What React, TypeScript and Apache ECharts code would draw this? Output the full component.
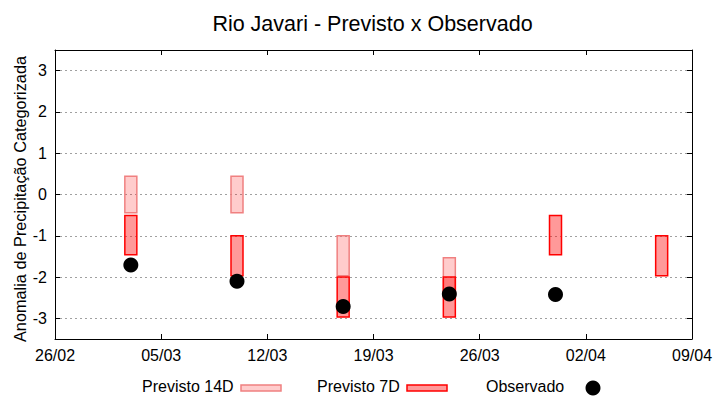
import React, { useEffect, useRef } from "react";
import * as echarts from "echarts";

// ---- data ----
const startDate = "2025-02-26";
const endDate = "2025-04-09";
const dates = ["2025-03-03", "2025-03-10", "2025-03-17", "2025-03-24", "2025-03-31", "2025-04-07"];
const prev14Low: (number | null)[] = [-0.44, -0.44, -1.97, -2.47, null, null];
const prev14High: (number | null)[] = [0.44, 0.44, -1.0, -1.53, null, null];
const prev7Low: (number | null)[] = [-1.46, -1.97, -2.97, -2.97, -1.46, -1.97];
const prev7High: (number | null)[] = [-0.51, -1.0, -2.0, -2.0, -0.51, -1.0];
const observed: (number | null)[] = [-1.71, -2.1, -2.71, -2.41, -2.42, null];
const seriesNames = ["Previsto 14D", "Previsto 7D", "Observado"];
const titleText = "Rio Javari - Previsto x Observado";
const yAxisTitle = "Anomalia de Precipitação Categorizada";

const DAY = 86400000;
const base = Date.parse(startDate + "T00:00:00Z");
const dayOffset = (d: string) => (Date.parse(d + "T00:00:00Z") - base) / DAY;
const xMax = dayOffset(endDate);

const fmtDate = (v: number) => {
  const d = new Date(base + Math.round(v) * DAY);
  const dd = String(d.getUTCDate()).padStart(2, "0");
  const mm = String(d.getUTCMonth() + 1).padStart(2, "0");
  return `${dd}/${mm}`;
};

const boxData = (lows: (number | null)[], highs: (number | null)[]) =>
  dates
    .map((d, i) => [dayOffset(d), lows[i], highs[i]])
    .filter((r) => r[1] != null && r[2] != null);

const FONT = "Liberation Sans";

export default function App() {
  const ref = useRef<HTMLDivElement>(null);
  useEffect(() => {
    if (!ref.current) return;
    const chart = echarts.init(ref.current, undefined, { renderer: "svg" });

    const makeRender = (fill: string, stroke: string) => (params: any, api: any) => {
      const x = api.value(0);
      const lo = api.value(1);
      const hi = api.value(2);
      const pHi = api.coord([x, hi]);
      const pLo = api.coord([x, lo]);
      const w = 12;
      return {
        type: "rect",
        shape: { x: pHi[0] - w / 2, y: pHi[1], width: w, height: pLo[1] - pHi[1] },
        style: { fill, stroke, lineWidth: 1.5 },
      };
    };

    const axisCommon = {
      axisLine: { show: true, onZero: false, lineStyle: { color: "#000", width: 1 } },
      axisTick: { show: true, inside: true, length: 5, lineStyle: { color: "#000" } },
    };

    chart.setOption({
      animation: false,
      textStyle: { fontFamily: FONT },
      title: {
        text: titleText,
        left: 367.5,
        top: 8,
        textAlign: "center",
        textStyle: { fontFamily: FONT, fontSize: 21.5, fontWeight: "normal", color: "#000" },
      },
      grid: { left: 55, right: 28, top: 50, bottom: 61, containLabel: false },
      xAxis: [
        {
          type: "value",
          min: 0,
          max: xMax,
          interval: 7,
          position: "bottom",
          ...axisCommon,
          axisLabel: { formatter: fmtDate, fontSize: 16, color: "#000", margin: 8, fontFamily: FONT },
          splitLine: { show: false },
        },
        {
          type: "value",
          min: 0,
          max: xMax,
          interval: 7,
          position: "top",
          ...axisCommon,
          axisLabel: { show: false },
          splitLine: { show: false },
        },
      ],
      yAxis: [
        {
          type: "value",
          min: -3.5,
          max: 3.5,
          splitNumber: 7,
          position: "left",
          ...axisCommon,
          axisLabel: {
            fontSize: 16,
            color: "#000",
            margin: 8,
            fontFamily: FONT,
            showMinLabel: false,
            showMaxLabel: false,
          },
          splitLine: {
            show: true,
            showMinLine: false,
            showMaxLine: false,
            lineStyle: { color: "#a0a0a0", type: [2, 3], width: 1 },
          },
        },
        {
          type: "value",
          min: -3.5,
          max: 3.5,
          splitNumber: 7,
          position: "right",
          ...axisCommon,
          axisLabel: { show: false },
          splitLine: { show: false },
        },
      ],
      series: [
        {
          name: seriesNames[0],
          type: "custom",
          xAxisIndex: 0,
          yAxisIndex: 0,
          renderItem: makeRender("rgba(255,0,0,0.2)", "#f08080"),
          encode: { x: 0, y: [1, 2] },
          data: boxData(prev14Low, prev14High),
          z: 2,
        },
        {
          name: seriesNames[1],
          type: "custom",
          xAxisIndex: 0,
          yAxisIndex: 0,
          renderItem: makeRender("rgba(255,0,0,0.4)", "#ff0000"),
          encode: { x: 0, y: [1, 2] },
          data: boxData(prev7Low, prev7High),
          z: 3,
        },
        {
          name: seriesNames[2],
          type: "scatter",
          xAxisIndex: 0,
          yAxisIndex: 0,
          symbol: "circle",
          symbolSize: 15,
          itemStyle: { color: "#000", opacity: 1 },
          data: dates
            .map((d, i) => [dayOffset(d), observed[i]])
            .filter((r) => r[1] != null),
          z: 4,
        },
      ],
      graphic: [
        {
          type: "text",
          x: 20,
          y: 199,
          rotation: Math.PI / 2,
          style: {
            text: yAxisTitle,
            fontSize: 16.3,
            fontFamily: FONT,
            fill: "#000",
            align: "center",
            verticalAlign: "middle",
          },
        },
        {
          type: "text",
          left: 142,
          top: 378,
          style: { text: seriesNames[0], fontSize: 16, fontFamily: FONT, fill: "#000" },
        },
        {
          type: "rect",
          shape: { x: 241, y: 385, width: 40, height: 6 },
          style: { fill: "rgba(255,0,0,0.2)", stroke: "#f08080", lineWidth: 1.5 },
        },
        {
          type: "text",
          left: 317,
          top: 378,
          style: { text: seriesNames[1], fontSize: 16, fontFamily: FONT, fill: "#000" },
        },
        {
          type: "rect",
          shape: { x: 407, y: 385, width: 40, height: 6 },
          style: { fill: "rgba(255,0,0,0.4)", stroke: "#ff0000", lineWidth: 1.5 },
        },
        {
          type: "text",
          left: 486,
          top: 378,
          style: { text: seriesNames[2], fontSize: 16, fontFamily: FONT, fill: "#000" },
        },
        {
          type: "circle",
          shape: { cx: 593, cy: 388, r: 7.5 },
          style: { fill: "#000" },
        },
      ],
    });
    return () => chart.dispose();
  }, []);
  return (
    <div
      ref={ref}
      style={{ position: "fixed", left: 0, top: 0, width: 720, height: 400, background: "#fff" }}
    />
  );
}
